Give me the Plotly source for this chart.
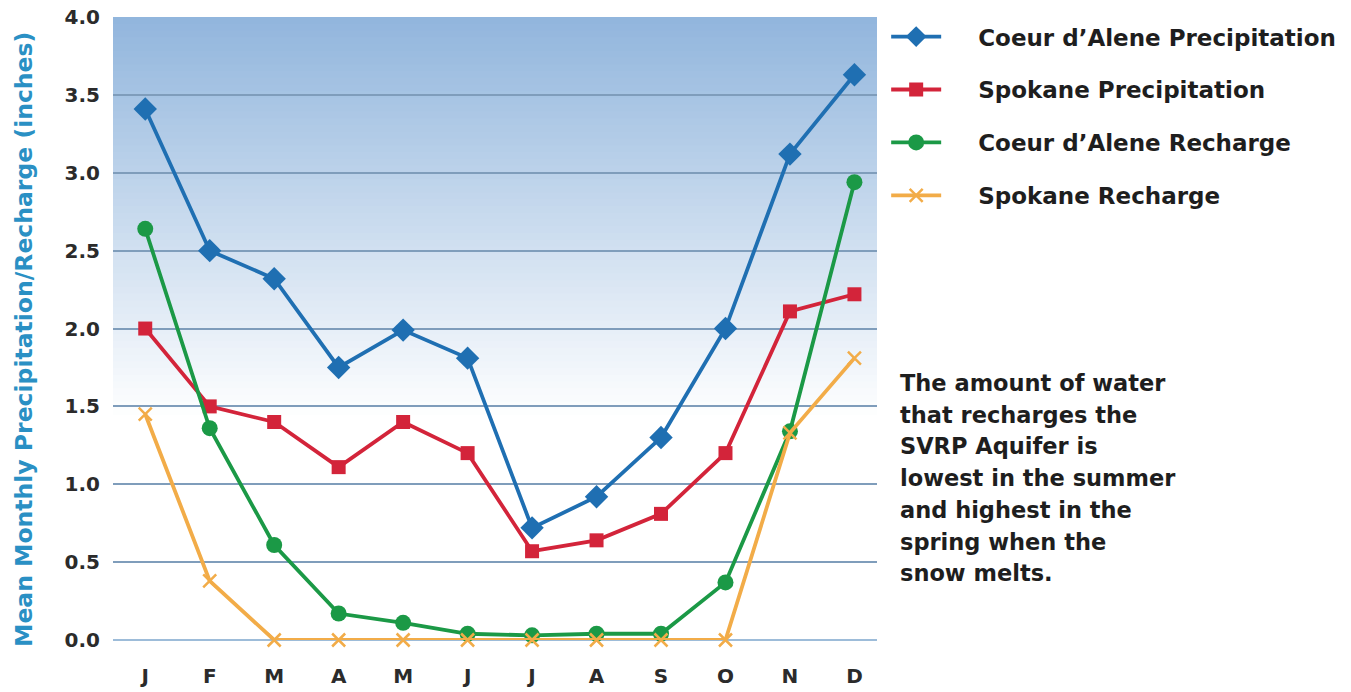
import plotly.graph_objects as go

months = ["J", "F", "M", "A", "M", "J", "J", "A", "S", "O", "N", "D"]
cda_precip = [3.41, 2.50, 2.32, 1.75, 1.99, 1.81, 0.72, 0.92, 1.30, 2.00, 3.12, 3.63]
spk_precip = [2.00, 1.50, 1.40, 1.11, 1.40, 1.20, 0.57, 0.64, 0.81, 1.20, 2.11, 2.22]
cda_recharge = [2.64, 1.36, 0.61, 0.17, 0.11, 0.04, 0.03, 0.04, 0.04, 0.37, 1.34, 2.94]
spk_recharge = [1.45, 0.38, 0.0, 0.0, 0.0, 0.0, 0.0, 0.0, 0.0, 0.0, 1.33, 1.81]
y_ticks = [0.0, 0.5, 1.0, 1.5, 2.0, 2.5, 3.0, 3.5, 4.0]
y_title = "Mean Monthly Precipitation/Recharge (inches)"
note = ["The amount of water", "that recharges the", "SVRP Aquifer is",
        "lowest in the summer", "and highest in the", "spring when the", "snow melts."]

FONT = "DejaVu Sans"
W, H = 1351, 692
x = list(range(len(months)))

fig = go.Figure()

series = [
    ("Coeur d’Alene Precipitation", cda_precip, "#1f6fb2", "diamond", 18),
    ("Spokane Precipitation", spk_precip, "#d3243a", "square", 14),
    ("Coeur d’Alene Recharge", cda_recharge, "#1b9946", "circle", 16),
    ("Spokane Recharge", spk_recharge, "#f2ac48", "x-thin-open", 13),
]
for i, (name, vals, col, sym, sz) in enumerate(series):
    mk = dict(symbol=sym, size=sz, color=col)
    if sym.startswith("x-thin"):
        mk["line"] = dict(color=col, width=2.5)
    fig.add_trace(go.Scatter(
        x=x, y=vals, name="\u00a0" * 4 + name, mode="lines+markers",
        line=dict(color=col, width=3.8), marker=mk,
        legendgroup="g%d" % i, cliponaxis=False,
    ))

# vertical gradient background (top blue -> white)
top = (146, 182, 221)
bottom = (255, 255, 255)
n = 60
y_hi, y_lo = 4.0, 1.4
shapes = []
for k in range(n):
    t = k / (n - 1)
    c = tuple(int(round(top[j] + (bottom[j] - top[j]) * t)) for j in range(3))
    y1 = y_hi - (y_hi - y_lo) * k / n
    y0 = y_hi - (y_hi - y_lo) * (k + 1) / n - 0.03
    shapes.append(dict(type="rect", xref="paper", yref="y", x0=0, x1=1, y0=y0, y1=y1,
                       fillcolor="rgb(%d,%d,%d)" % c, line=dict(width=0), layer="below"))

# plot-area edges in screen pixels
PL, PR, PT, PB = 113, 877, 17, 640
annotations = []
for i, line in enumerate(note):
    ypx = 383 + i * 31.7
    annotations.append(dict(
        text=line, xref="paper", yref="paper", x=(897 - PL) / (PR - PL) + 0.001,
        y=(PB - ypx) / (PB - PT),
        xanchor="left", yanchor="middle", align="left", showarrow=False,
        font=dict(family=FONT, size=22.5, color="#1e1e1e", weight="bold"),
    ))
# y-axis title as a rotated annotation (centred like the reference)
annotations.append(dict(
    text=y_title, xref="paper", yref="paper", textangle=-90,
    x=(24 - PL) / (PR - PL), y=(PB - 340) / (PB - PT),
    xanchor="center", yanchor="middle", showarrow=False,
    font=dict(family=FONT, size=23.5, color="#2a90c4", weight="bold"),
))

fig.update_layout(
    width=W, height=H,
    margin=dict(l=PL, r=W - PR, t=PT, b=H - PB, autoexpand=False),
    paper_bgcolor="white", plot_bgcolor="white",
    shapes=shapes, annotations=annotations,
    font=dict(family=FONT, size=20, color="#333333", weight="bold"),
    legend=dict(
        x=1.012, y=1.003, xanchor="left", yanchor="top",
        font=dict(family=FONT, size=23, color="#1e1e1e", weight="bold"),
        tracegroupgap=20, traceorder="grouped", itemwidth=50,
        bgcolor="rgba(0,0,0,0)",
    ),
    xaxis=dict(
        tickmode="array", tickvals=x, ticktext=months,
        range=[-0.5, 11.35], showgrid=False, zeroline=False, showline=False,
        ticks="", ticklabelstandoff=22,
        tickfont=dict(family=FONT, size=20, color="#2b2b2b", weight="bold"),
    ),
    yaxis=dict(
        range=[0, 4.0005], tickmode="array", tickvals=y_ticks,
        ticktext=["%.1f" % v for v in y_ticks],
        showgrid=True, gridcolor="#7f9dbb", gridwidth=2,
        zeroline=True, zerolinecolor="#9dbcd9", zerolinewidth=2,
        showline=False, ticks="", ticklabelstandoff=12, ticklabeloverflow="allow",
        tickfont=dict(family=FONT, size=20, color="#2b2b2b", weight="bold"),
    ),
)

fig.write_html("out.html", config={"displayModeBar": False},
               post_script="document.body.style.margin='0';")
